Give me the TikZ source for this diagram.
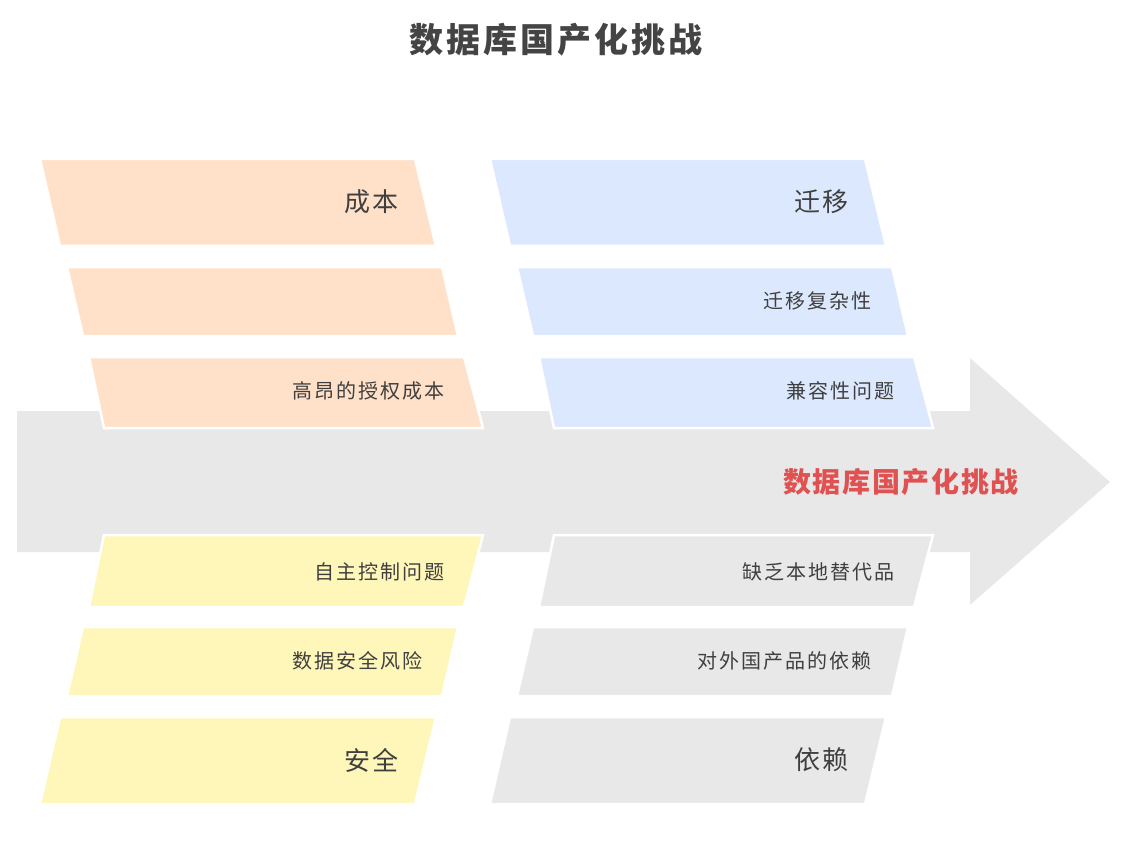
\documentclass[tikz,border=0pt]{standalone}
\usepackage{fontspec}
\setmainfont{Noto Sans CJK SC}
\definecolor{peach}{HTML}{FFE1C9}
\definecolor{skyblue}{HTML}{DCE8FD}
\definecolor{lemon}{HTML}{FFF6BA}
\definecolor{arrowgray}{HTML}{E8E8E8}
\definecolor{txt}{HTML}{3F3F3F}
\definecolor{titlegray}{HTML}{444444}
\definecolor{hired}{HTML}{E05252}
\begin{document}
\begin{tikzpicture}[x=1pt,y=-1pt,
  box/.style={line width=2.5pt, draw=white, line join=miter},
  lbl/.style={anchor=east, text=txt, inner sep=0pt, font=\fontsize{20}{24}\selectfont\addfontfeature{LetterSpace=10}},
  big/.style={lbl, font=\fontsize{26}{30}\selectfont\addfontfeature{LetterSpace=8}}]
\useasboundingbox (0,0) rectangle (1122,861);
% main arrow
\fill[arrowgray] (17,411) -- (970,411) -- (970,358) -- (1110,482) -- (970,605) -- (970,552) -- (17,552) -- cycle;
% upper left (cost)
\filldraw[box, fill=peach] (40,159) -- (415,159) -- (436,246) -- (60,246) -- cycle;
\filldraw[box, fill=peach] (67,267) -- (442,267) -- (458,336) -- (83,336) -- cycle;
\filldraw[box, fill=peach] (89,357) -- (464,357) -- (483,428) -- (104,428) -- cycle;
% upper right (migration)
\filldraw[box, fill=skyblue] (490,159) -- (865,159) -- (886,246) -- (510,246) -- cycle;
\filldraw[box, fill=skyblue] (517,267) -- (892,267) -- (908,336) -- (533,336) -- cycle;
\filldraw[box, fill=skyblue] (539,357) -- (914,357) -- (933,428) -- (554,428) -- cycle;
% lower left (security)
\filldraw[box, fill=lemon] (104,535) -- (483,535) -- (464,607) -- (89,607) -- cycle;
\filldraw[box, fill=lemon] (83,627) -- (458,627) -- (442,696) -- (67,696) -- cycle;
\filldraw[box, fill=lemon] (60,717) -- (436,717) -- (415,804) -- (40,804) -- cycle;
% lower right (dependence)
\filldraw[box, fill=arrowgray] (554,535) -- (933,535) -- (914,607) -- (539,607) -- cycle;
\filldraw[box, fill=arrowgray] (533,627) -- (908,627) -- (892,696) -- (517,696) -- cycle;
\filldraw[box, fill=arrowgray] (510,717) -- (886,717) -- (865,804) -- (490,804) -- cycle;
% labels
\node[big] (cost) at (399,202) {成本};
\node[big] (mig) at (849,202) {迁移};
\node[lbl] (migc) at (872,301) {迁移复杂性};
\node[lbl] (lic) at (445,391) {高昂的授权成本};
\node[lbl] (compat) at (895,391) {兼容性问题};
\node[lbl] (auto) at (445,572) {自主控制问题};
\node[lbl] (subst) at (895,572) {缺乏本地替代品};
\node[lbl] (risk) at (423,661) {数据安全风险};
\node[lbl] (dep) at (872,661) {对外国产品的依赖};
\node[big] (sec) at (399,760) {安全};
\node[big] (rely) at (849,760) {依赖};
\node[anchor=east, inner sep=0pt, text=hired, font=\fontsize{28}{32}\selectfont\bfseries\addfontfeature{LetterSpace=6}] (center) at (1019,482) {数据库国产化挑战};
\node[inner sep=0pt, text=titlegray, font=\fontsize{34}{40}\selectfont\bfseries\addfontfeature{LetterSpace=9}] (title) at (556,40) {数据库国产化挑战};
\end{tikzpicture}
\end{document}
